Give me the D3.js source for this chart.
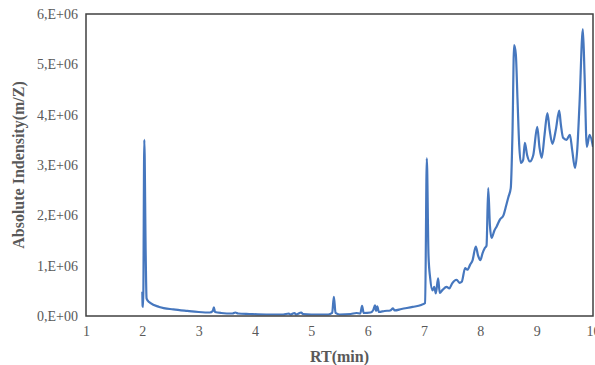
<!DOCTYPE html>
<html>
<head>
<meta charset="utf-8">
<script src="https://cdn.jsdelivr.net/npm/d3@7"></script>
<style>
  html, body { margin: 0; padding: 0; background: #fff; }
  svg { display: block; }
</style>
</head>
<body>
<svg id="chart" width="595" height="365"></svg>
<script>
// retention time (min)
const rtValues = [
  2.00, 2.005, 2.015, 2.035, 2.06, 2.075, 2.10, 2.14, 2.30, 2.55, 2.80, 3.00,
  3.20, 3.25, 3.27, 3.29, 3.40, 3.60, 3.65, 3.70, 3.90, 4.20, 4.50, 4.60,
  4.63, 4.70, 4.73, 4.82, 4.85, 5.00, 5.30, 5.37, 5.40, 5.43, 5.50, 5.70,
  5.80, 5.87, 5.90, 5.93, 6.05, 6.10, 6.13, 6.15, 6.17, 6.20, 6.30, 6.40,
  6.45, 6.48, 6.60, 6.80, 6.95, 7.02, 7.05, 7.08, 7.11, 7.15, 7.18, 7.21,
  7.25, 7.28, 7.33, 7.40, 7.45, 7.50, 7.58, 7.63, 7.67, 7.73, 7.77, 7.82,
  7.86, 7.92, 7.96, 8.00, 8.04, 8.08, 8.11, 8.14, 8.17, 8.20, 8.25, 8.29,
  8.35, 8.41, 8.46, 8.50, 8.54, 8.57, 8.60, 8.63, 8.66, 8.69, 8.72, 8.76,
  8.79, 8.83, 8.88, 8.94, 9.01, 9.05, 9.09, 9.14, 9.19, 9.23, 9.28, 9.34,
  9.40, 9.43, 9.47, 9.53, 9.59, 9.63, 9.68, 9.72, 9.76, 9.82, 9.85, 9.89,
  9.94, 10.00
];
// absolute intensity, millions
const intensityValues = [
  0.48, 0.20, 0.18, 3.50, 1.20, 0.35, 0.30, 0.26, 0.18, 0.13, 0.10, 0.08,
  0.07, 0.10, 0.17, 0.08, 0.06, 0.05, 0.07, 0.05, 0.04, 0.03, 0.03, 0.05,
  0.03, 0.06, 0.03, 0.07, 0.04, 0.03, 0.03, 0.06, 0.38, 0.06, 0.03, 0.04,
  0.06, 0.05, 0.20, 0.06, 0.07, 0.12, 0.21, 0.10, 0.19, 0.08, 0.10, 0.11,
  0.15, 0.11, 0.14, 0.18, 0.22, 0.26, 3.13, 1.20, 0.75, 0.51, 0.58, 0.45,
  0.75, 0.46, 0.52, 0.58, 0.55, 0.65, 0.72, 0.66, 0.68, 0.95, 0.92, 1.02,
  1.10, 1.38, 1.20, 1.11, 1.25, 1.35, 1.40, 2.54, 1.80, 1.55, 1.70, 1.78,
  1.92, 2.00, 2.20, 2.37, 2.54, 3.60, 5.38, 5.20, 4.30, 3.40, 3.04, 3.10,
  3.44, 3.20, 3.07, 3.20, 3.76, 3.35, 3.14, 3.60, 4.03, 3.70, 3.42, 3.70,
  4.08, 3.80, 3.54, 3.50, 3.60, 3.30, 2.94, 3.30, 4.20, 5.70, 4.80, 3.36,
  3.60, 3.36
];
const xTicks = [1, 2, 3, 4, 5, 6, 7, 8, 9, 10];
const yTicks = [0, 1, 2, 3, 4, 5, 6];
const yTickLabels = ["0,E+00", "1,E+06", "2,E+06", "3,E+06", "4,E+06", "5,E+06", "6,E+06"];

const svg = d3.select('#chart');
const plotLeft = 86, plotRight = 593, plotTop = 14, plotBottom = 316;
const textColor = "#595959";

const xScale = d3.scaleLinear().domain([1, 10]).range([plotLeft, plotRight]);
const yScale = d3.scaleLinear().domain([0, 6]).range([plotBottom, plotTop]);

const points = rtValues.map((rt, i) => ({ rt: rt, v: intensityValues[i] }));

// clip
svg.append('defs').append('clipPath').attr('id', 'plotclip')
   .append('rect')
   .attr('x', plotLeft).attr('y', plotTop)
   .attr('width', plotRight - plotLeft).attr('height', plotBottom - plotTop);

// data line
const lineFunc = d3.line()
    .x(d => xScale(d.rt))
    .y(d => yScale(d.v))
    .curve(d3.curveMonotoneX);

svg.append('path')
   .datum(points)
   .attr('clip-path', 'url(#plotclip)')
   .attr('d', lineFunc)
   .attr('fill', 'none')
   .attr('stroke', '#4677BE')
   .attr('stroke-width', 2.2)
   .attr('stroke-linejoin', 'round');

// frame
svg.append('rect')
   .attr('x', plotLeft).attr('y', plotTop)
   .attr('width', plotRight - plotLeft).attr('height', plotBottom - plotTop)
   .attr('fill', 'none')
   .attr('stroke', '#404040')
   .attr('stroke-width', 1.5);

// x axis
const xAxis = svg.append('g')
   .attr('transform', 'translate(0,' + plotBottom + ')')
   .call(d3.axisBottom(xScale).tickValues(xTicks).tickSize(0).tickPadding(10).tickFormat(d3.format('d')));
xAxis.select('.domain').remove();
xAxis.selectAll('text')
   .style('font', '14px "Liberation Serif"')
   .attr('fill', textColor);

// y axis
const yAxis = svg.append('g')
   .attr('transform', 'translate(' + plotLeft + ',0)')
   .call(d3.axisLeft(yScale).tickValues(yTicks).tickSize(0).tickPadding(8).tickFormat((d, i) => yTickLabels[i]));
yAxis.select('.domain').remove();
yAxis.selectAll('text')
   .style('font', '14px "Liberation Serif"')
   .attr('fill', textColor);

// axis titles
svg.append('text')
   .style('font', 'bold 16px "Liberation Serif"')
   .attr('fill', textColor)
   .attr('text-anchor', 'middle')
   .attr('transform', 'translate(24,' + ((plotTop + plotBottom) / 2) + ')rotate(-90)')
   .text('Absolute Indensity(m/Z)');

svg.append('text')
   .style('font', 'bold 16px "Liberation Serif"')
   .attr('fill', textColor)
   .attr('text-anchor', 'middle')
   .attr('x', (plotLeft + plotRight) / 2)
   .attr('y', 362)
   .text('RT(min)');
</script>
</body>
</html>
